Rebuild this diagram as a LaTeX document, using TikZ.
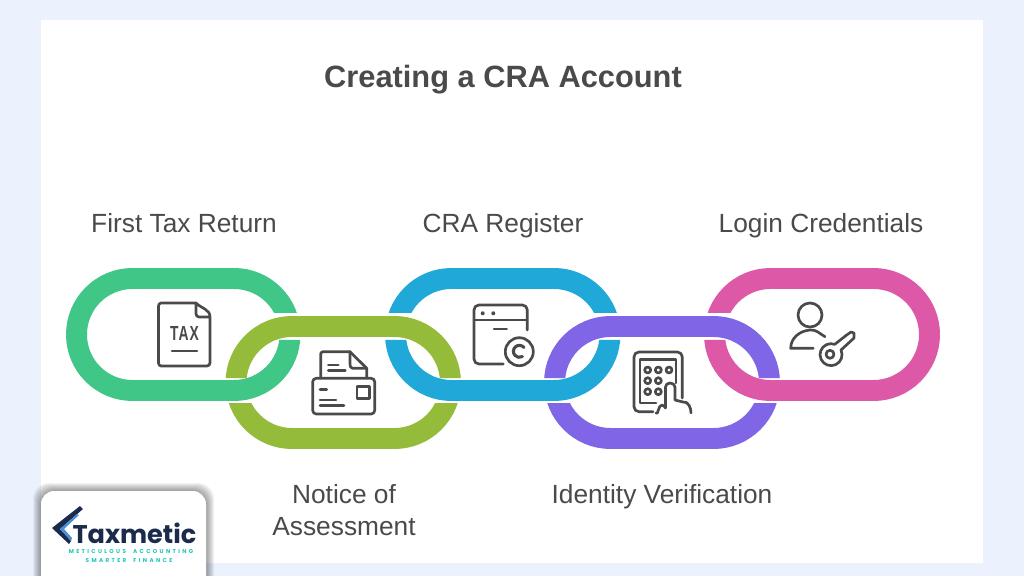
\documentclass[tikz,border=0pt]{standalone}
\usepackage{fontspec}
\setmainfont{Liberation Sans}
\newfontfamily\logofont{Poppins}
\newfontfamily\tagfont[LetterSpace=42]{Poppins}
\newfontfamily\taxfont[LetterSpace=8]{Liberation Sans}
\definecolor{pagebg}{HTML}{EBF2FE}
\definecolor{inkgray}{HTML}{4A4A4A}
\definecolor{linkgreen}{HTML}{40C687}
\definecolor{linkolive}{HTML}{94BB3A}
\definecolor{linkblue}{HTML}{20A9D8}
\definecolor{linkpurple}{HTML}{8066E6}
\definecolor{linkpink}{HTML}{DD58A6}
\definecolor{logonavy}{HTML}{1B2B4B}
\definecolor{logoblue}{HTML}{4A8FD6}
\definecolor{logoteal}{HTML}{1CC9B7}
\tikzset{
  ring/.style={line width=14.9pt, rounded corners=1.4cm},
  icon/.style={inkgray, line width=1.9pt, line cap=round, line join=round},
  steplabel/.style={text=inkgray, font=\fontsize{18.7}{22.7}\selectfont, align=center, inner sep=0pt},
  tagline/.style={text=logoteal, font=\tagfont\bfseries\fontsize{4}{4.5}\selectfont, inner sep=0pt},
}
% one chain link: colour, corner, corner, kept bands
\newcommand{\chainlink}[4]{
  \begin{scope}
    \clip #4;
    \draw[ring, #1] #2 rectangle #3;
  \end{scope}
}
\begin{document}
\begin{tikzpicture}[x=0.025cm, y=-0.025cm]
  \clip (0,0) rectangle (1024,576);
  % Page
  \fill[pagebg] (0,0) rectangle (1024,576);
  \fill[white] (41,20) rectangle (983,563);

  \node[text=inkgray, font=\fontsize{21.9}{26}\selectfont\bfseries, inner sep=0pt, anchor=base] (title) at (503,88) {Creating a CRA Account};

  % --- LINKS ---
  \chainlink{linkgreen}{(76.5,278.5)}{(290,390.5)}{(0,0) rectangle (1024,313) (0,340) rectangle (1024,576) (0,300) rectangle (180,350)}
  \chainlink{linkolive}{(236,326.5)}{(450.5,438.5)}{(0,0) rectangle (1024,378) (0,403) rectangle (1024,576)}
  \chainlink{linkblue}{(395.5,278.5)}{(610,390.5)}{(0,0) rectangle (1024,313) (0,340) rectangle (1024,576)}
  \chainlink{linkpurple}{(554.5,326.5)}{(769.5,438.5)}{(0,0) rectangle (1024,378) (0,403) rectangle (1024,576)}
  \chainlink{linkpink}{(714.5,278.5)}{(929.5,390.5)}{(0,0) rectangle (1024,313) (0,340) rectangle (1024,576) (830,300) rectangle (1024,350)}

  % --- LABELS ---
  \node[steplabel, anchor=base] (firsttax) at (184,232.7) {First Tax Return};
  \node[steplabel, anchor=base] (register) at (503,232.7) {CRA Register};
  \node[steplabel, anchor=base] (login) at (821,232.7) {Login Credentials};
  \node[steplabel] (notice) at (344,510) {Notice of\\Assessment};
  \node[steplabel, anchor=base] (identity) at (662,503) {Identity Verification};

  % Tax form
  \draw[icon] (196,303) -- (161,303) to[out=180, in=90] (158.5,306) -- (158.5,363) to[out=-90, in=180] (161,366) -- (207,366) to[out=0, in=-90] (210,363) -- (210,317) to[out=90, in=-45] (196,303) -- (196,314) to[out=-90, in=180] (199,317) -- (210,317);
  \node[text=inkgray, font=\taxfont\bfseries\fontsize{14.5}{15}\selectfont, xscale=0.68, inner sep=0pt] (taxword) at (184.5,333) {TAX};
  \draw[icon] (172,351) -- (197,351);

  % Notice letter
  \draw[icon, rounded corners=2.5pt] (312.7,378.3) rectangle (374.7,414);
  \draw[icon] (357,386.7) rectangle (369.3,398.3);
  \draw[icon] (320,389.3) -- (326.7,389.3) (320,400) -- (336,400) (320,405.3) -- (344,405.3);
  \draw[icon] (320.7,378) -- (320.7,354) to[out=90, in=180] (323,351.7) -- (350,351.7) -- (366.7,368.3) -- (366.7,378);
  \draw[icon] (350,351.7) -- (350,364) to[out=-90, in=180] (352.5,368.3) -- (366.7,368.3);
  \draw[icon] (328.3,365) -- (338.3,365) (328.3,370.7) -- (345.3,370.7);

  % Register window
  \draw[icon, rounded corners=3.5pt] (527.3,330) -- (527.3,305) -- (474,305) -- (474,364) -- (503.3,364);
  \draw[icon] (474,320) -- (527.3,320) (494,329) -- (506.7,329);
  \fill[inkgray] (482.7,313.3) circle (2) (493.3,313.3) circle (2);
  \draw[icon] (519.3,351.7) circle (14);
  \draw[icon, line width=2.2pt] (524,347.5) arc (-40:-300:6);

  % Keypad
  \draw[icon, rounded corners=3.5pt] (682.3,398) -- (682.3,352) -- (634,352) -- (634,411.7) -- (653,411.7);
  \draw[icon] (676,383) -- (676,359.3) -- (640,359.3) -- (640,403) -- (656,403);
  \foreach \keyx/\keyy in {647.7/370, 658.3/370, 669/370, 647.7/380.7, 658.3/380.7, 647.7/391.7, 658.3/391.7}
    \draw[icon] (\keyx,\keyy) circle (3);
  \draw[icon] (656,413) to[out=-60, in=180] (662,405) to[out=0, in=140] (665.5,408) -- (665.5,387) to[out=90, in=180] (670,383) to[out=0, in=90] (675,387) -- (675,400) -- (683,402) to[out=10, in=90] (691,413);

  % Person with key
  \draw[icon] (810,315) circle (12);
  \draw[icon] (813.3,348.3) -- (790.7,348.3) to[out=90, in=185] (810,330) to[out=5, in=150] (825,336.7);
  \draw[icon] (830,354.3) circle (4);
  \draw[icon] (841,350) arc (-25:290:11) -- (846,335.5) -- (851,332) -- (854,333) -- (854,338) -- cycle;

  % --- LOGO CARD ---
  \foreach \grow in {1,...,8}
    \fill[black, opacity=0.05, rounded corners=0.4cm] (41-\grow,491-\grow) rectangle (206+\grow,600);
  \fill[white, rounded corners=0.33cm] (41,491) rectangle (206,600);
  \fill[logonavy] (80,506) -- (83,509) -- (60,529) -- (71,541) -- (69,544) -- (52,528) -- cycle;
  \fill[logoblue] (77,514) -- (60,529) -- (71,541) -- (72,538) -- (64,529) -- (79,515) -- cycle;
  \node[text=logonavy, font=\logofont\bfseries\fontsize{18.2}{20}\selectfont, inner sep=0pt] (brand) at (134.5,533.5) {Taxmetic};
  \node[tagline] (tagmain) at (131,552) {METICULOUS\ \ ACCOUNTING};
  \node[tagline] (tagsub) at (129,560.5) {SMARTER\ \ FINANCE};
\end{tikzpicture}
\end{document}
